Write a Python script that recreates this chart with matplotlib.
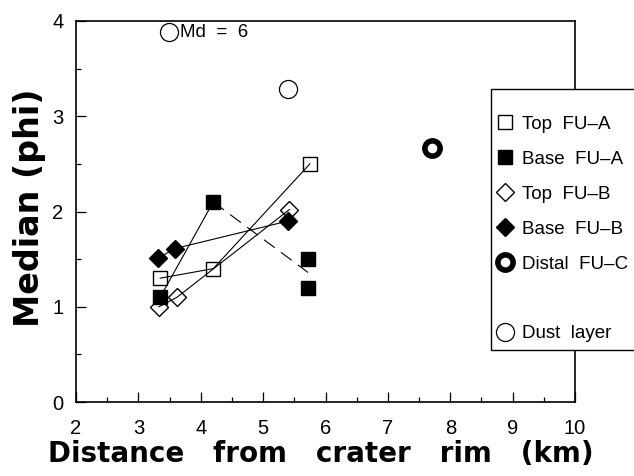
import numpy as np
import matplotlib
matplotlib.use("Agg")
import matplotlib.pyplot as plt
from matplotlib.lines import Line2D
from matplotlib.patches import Rectangle

plt.rcParams['font.family'] = ['Liberation Sans', 'DejaVu Sans']

# Top FU-A (open squares)
top_a_x = [3.35, 4.2, 5.75]
top_a_y = [1.3, 1.4, 2.5]
# Base FU-A (filled squares)
base_a_x = [3.35, 4.2, 5.72, 5.72]
base_a_y = [1.1, 2.1, 1.5, 1.2]
# dashed trend from 4.2 km to the mean of the two 5.7 km samples
base_a_trend_x = [4.2, 5.72]
base_a_trend_y = [2.1, 1.36]
# Top FU-B (open diamonds)
top_b_x = [3.33, 3.62, 5.42]
top_b_y = [1.0, 1.1, 2.02]
# Base FU-B (filled diamonds)
base_b_x = [3.32, 3.58, 5.4]
base_b_y = [1.51, 1.61, 1.9]
# Distal FU-C
distal_x = [7.7]
distal_y = [2.67]
# Dust layer
dust_x = [5.4]
dust_y = [3.29]
# off-scale dust sample
md_x, md_y = 3.49, 3.88
md_label = "Md  =  6"

legend_labels = ["Top  FU\u2013A", "Base  FU\u2013A", "Top  FU\u2013B", "Base  FU\u2013B",
                 "Distal  FU\u2013C", "", "Dust  layer"]

fig = plt.figure(figsize=(6.34, 4.76), dpi=100)
ax = fig.add_axes([76/634, 1-402/476, (575-76)/634, (402-21)/476])

lw = 0.8
# lines
ax.plot(top_a_x, top_a_y, color='black', lw=lw, zorder=2)
ax.plot(base_a_x[:2], base_a_y[:2], color='black', lw=lw, zorder=2)
ax.plot(base_a_trend_x, base_a_trend_y, color='black', lw=lw, dashes=(12, 7), zorder=2)
ax.plot(top_b_x, top_b_y, color='black', lw=lw, zorder=2)
ax.plot(base_b_x, base_b_y, color='black', lw=lw, zorder=2)

# markers
sq_open = dict(marker='s', ms=10.5, mfc='none', mec='black', mew=1.0, ls='none')
sq_fill = dict(marker='s', ms=9.5, mfc='black', mec='black', ls='none')
d_open = dict(marker='D', ms=9.5, mfc='none', mec='black', mew=1.0, ls='none')
d_fill = dict(marker='D', ms=9.5, mfc='black', mec='black', ls='none')
c_distal = dict(marker='o', ms=11, mfc='white', mec='black', mew=4, ls='none')
c_open = dict(marker='o', ms=13, mfc='white', mec='black', mew=0.9, ls='none')

ax.plot(top_a_x, top_a_y, zorder=3, **sq_open)
ax.plot(top_b_x, top_b_y, zorder=3, **d_open)
ax.plot(base_a_x, base_a_y, zorder=4, **sq_fill)
ax.plot(base_b_x, base_b_y, zorder=4, **d_fill)
ax.plot(distal_x, distal_y, zorder=4, **c_distal)
ax.plot(dust_x, dust_y, zorder=4, **c_open)
ax.plot([md_x], [md_y], zorder=4, **c_open)
ax.text(md_x + 0.17, md_y, md_label, fontsize=13.5, va='center', ha='left')

ax.set_xlim(2, 10)
ax.set_ylim(0, 4)
ax.set_xticks(np.arange(2, 11, 1))
ax.set_xticks(np.arange(2.5, 10, 1), minor=True)
ax.set_yticks(np.arange(0, 5, 1))
ax.set_yticks(np.arange(0.5, 4, 1), minor=True)
ax.tick_params(which='major', direction='in', length=7, width=0.9, labelsize=14.5,
               top=False, right=False)
ax.tick_params(which='minor', direction='in', length=3.5, width=0.9, top=False, right=False)
ax.tick_params(axis='x', pad=12.5)
ax.tick_params(axis='y', pad=9)
for s in ax.spines.values():
    s.set_linewidth(1.2)

ax.set_xlabel("Distance   from   crater   rim   (km)", fontsize=20, fontweight='bold',
              family='DejaVu Sans')
ax.set_ylabel("Median (phi)", fontsize=24, fontweight='bold', family='DejaVu Sans')
ax.xaxis.set_label_coords(0.49, -0.1)
ax.yaxis.set_label_coords(-0.06, 0.51)

# legend box (runs off the right edge of the figure)
fig.patches.append(Rectangle((491/634, 1-350/476), 0.5, (350-89)/476,
                             transform=fig.transFigure, facecolor='white',
                             edgecolor='black', lw=1.0, zorder=5))
handles = [Line2D([], [], **sq_open), Line2D([], [], **sq_fill),
           Line2D([], [], **d_open), Line2D([], [], **d_fill),
           Line2D([], [], **c_distal), Line2D([], [], ls='none'),
           Line2D([], [], **c_open)]
leg = fig.legend(handles, legend_labels, loc='upper left',
                 bbox_to_anchor=(491/634, 1-110/476), bbox_transform=fig.transFigure,
                 frameon=False, fontsize=13.5, handlelength=0.9, handletextpad=0.45,
                 labelspacing=0.95, borderaxespad=0, borderpad=0.3)
leg.set_zorder(6)

fig.savefig("out.png", dpi=100)
